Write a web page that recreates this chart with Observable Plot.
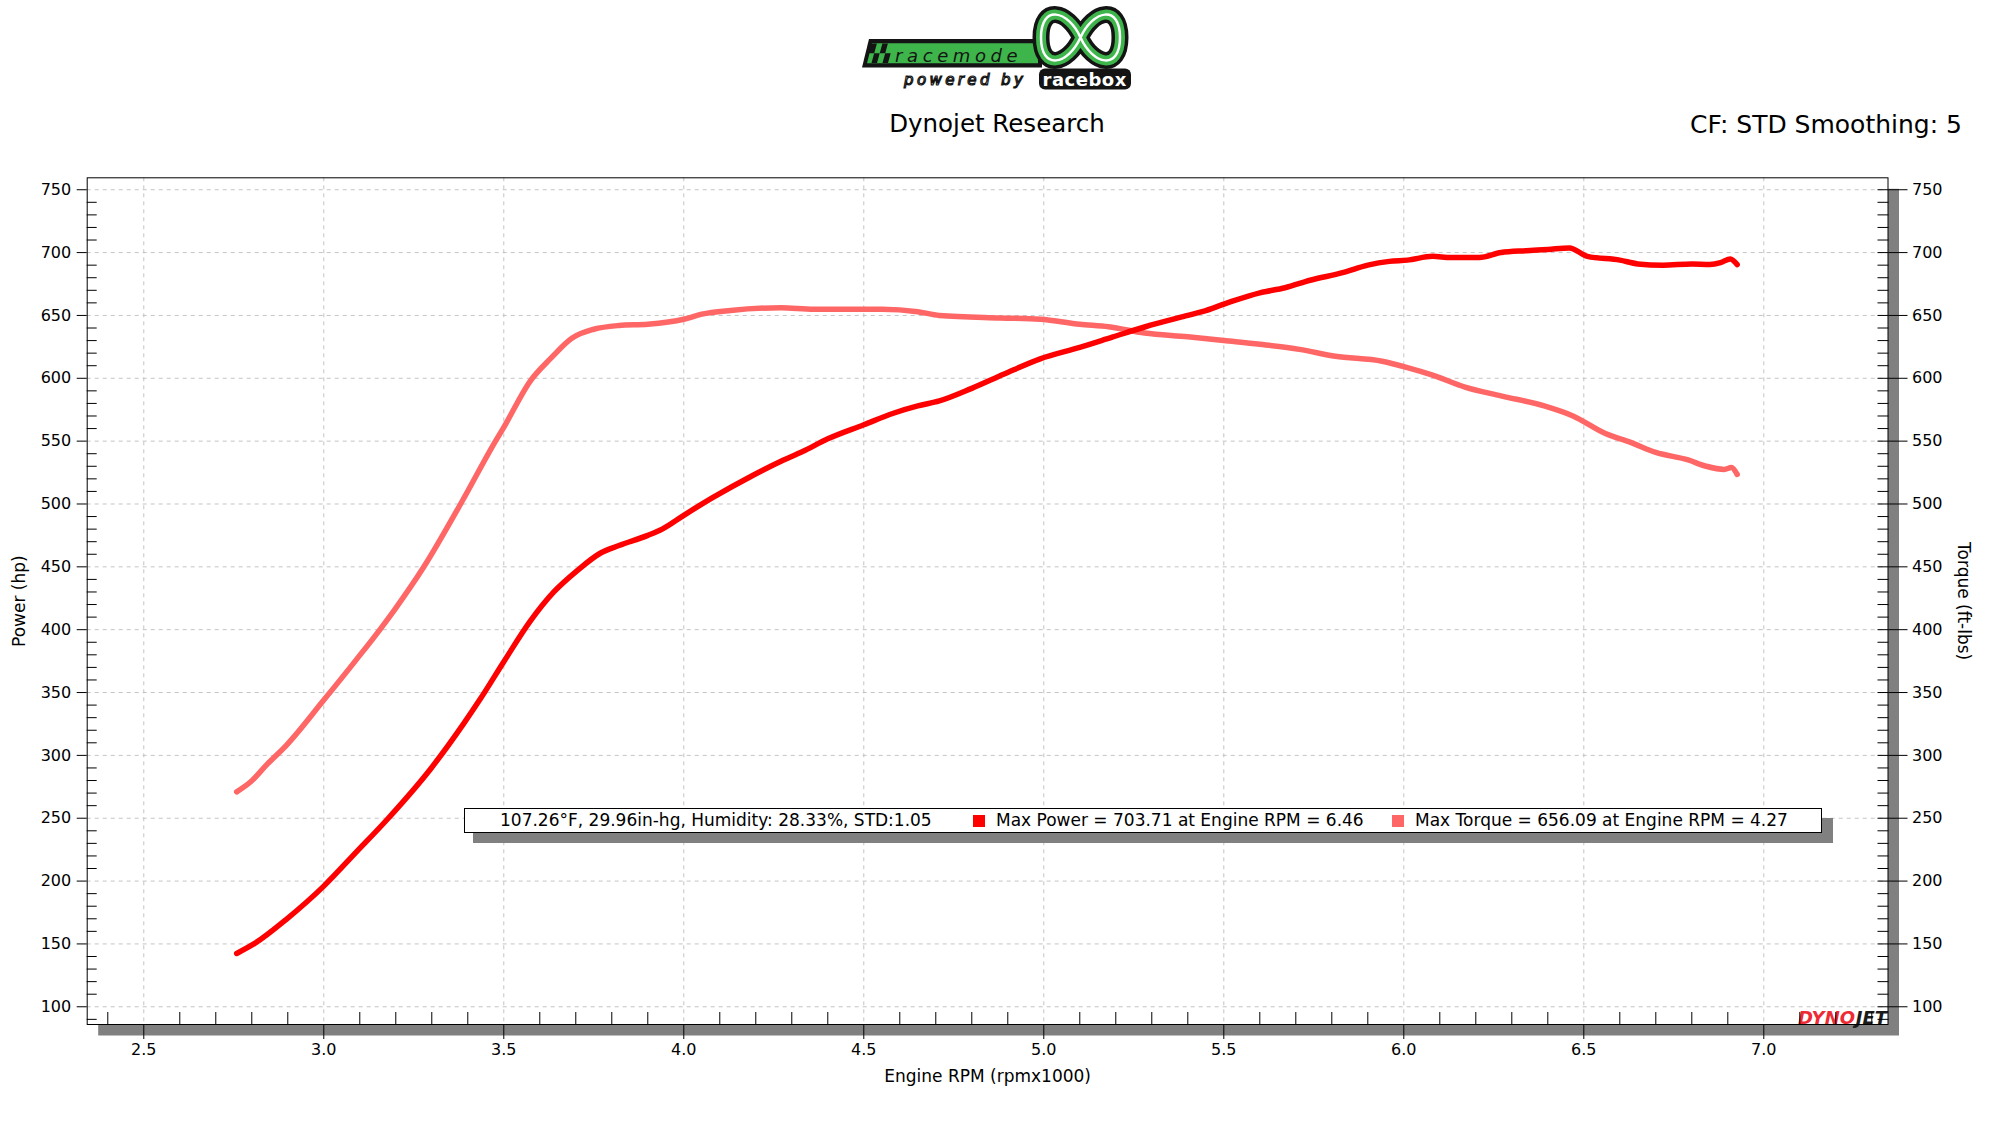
<!DOCTYPE html>
<html>
<head>
<meta charset="utf-8">
<script src="https://cdn.jsdelivr.net/npm/d3@7"></script>
<script src="https://cdn.jsdelivr.net/npm/@observablehq/plot@0.6"></script>
<style>
html,body{margin:0;padding:0;background:#fff;}
#wrap{position:relative;width:1994px;height:1121px;overflow:hidden;font-family:"DejaVu Sans",sans-serif;color:#000;background:#fff;}
#chart svg{display:block;}
#header{display:block;}
.legend-shadow{position:absolute;left:473px;top:818px;width:1360px;height:25px;background:#808080;}
.legend-box{position:absolute;left:463.5px;top:808px;width:1358.5px;height:25px;box-sizing:border-box;border:1px solid #000;background:#fff;font-size:17px;line-height:23px;white-space:nowrap;}
.legend-box .t{position:absolute;top:0;}
.legend-box .sq{position:absolute;width:12px;height:12px;top:5.5px;}
</style>
</head>
<body>
<div id="wrap">
  <svg id="header" width="1994" height="150" xmlns="http://www.w3.org/2000/svg" style="font-family:'DejaVu Sans',sans-serif">
    <g transform="translate(860,0)">
      <path d="M9,39 L182,39 L182,67.5 L2,67.5 Z" fill="#141414"/>
      <path d="M12,43.3 L178,43.3 L178,63.3 L7,63.3 Z" fill="#3db54a"/>
      <g fill="#141414">
        <path d="M8.7,53.25 L14.2,53.25 L16.9,43.5 L11.4,43.5 Z"/>
        <path d="M11.5,63 L17,63 L19.7,53.25 L14.2,53.25 Z"/>
        <path d="M19.7,53.25 L25.2,53.25 L27.9,43.5 L22.4,43.5 Z"/>
        <path d="M22.5,63 L28,63 L30.7,53.25 L25.2,53.25 Z"/>
      </g>
      <text x="35" y="61.5" font-size="18" font-style="italic" letter-spacing="4.6" fill="#141414">racemode</text>
      <text x="44" y="85" font-size="15" font-style="italic" letter-spacing="3.4" fill="#fff" stroke="#141414" stroke-width="1.2">powered by</text>
      <rect x="179" y="68.5" width="92" height="21" rx="6" fill="#141414"/>
      <text x="182.5" y="86" font-size="18" font-weight="bold" letter-spacing="0.5" fill="#fff">racebox</text>
      <g transform="translate(0,2)">
        <path d="M220.5,35.5 C233,8 260,2 260,35.5 C260,69 233,63 220.5,35.5 C208,8 181,2 181,35.5 C181,69 208,63 220.5,35.5 Z" fill="none" stroke="#141414" stroke-width="17"/>
        <path d="M220.5,35.5 C233,8 260,2 260,35.5 C260,69 233,63 220.5,35.5 C208,8 181,2 181,35.5 C181,69 208,63 220.5,35.5 Z" fill="none" stroke="#3db54a" stroke-width="10"/>
        <path d="M220.5,35.5 C233,8 260,2 260,35.5 C260,69 233,63 220.5,35.5 C208,8 181,2 181,35.5 C181,69 208,63 220.5,35.5 Z" fill="none" stroke="#ffffff" stroke-width="2.5"/>
      </g>
    </g>
    <text x="997" y="131.7" font-size="24.5" text-anchor="middle" fill="#000">Dynojet Research</text>
    <text x="1962" y="132.7" font-size="25" text-anchor="end" fill="#000">CF: STD Smoothing: 5</text>
  </svg>
  <div id="chart"></div>
  <div class="legend-shadow"></div>
  <div class="legend-box" id="legend"></div>
</div>
<script>
// ---- Data ----
const torqueRpm = [2.758, 2.797, 2.843, 2.896, 3.0, 3.09, 3.157, 3.197, 3.278, 3.38, 3.477, 3.5, 3.574, 3.631, 3.69, 3.75, 3.82, 3.90, 4.0, 4.05, 4.13, 4.27, 4.36, 4.55, 4.65, 4.71, 4.88, 4.99, 5.10, 5.18, 5.28, 5.40, 5.50, 5.60, 5.71, 5.81, 5.94, 6.01, 6.08, 6.17, 6.27, 6.39, 6.47, 6.56, 6.63, 6.70, 6.79, 6.84, 6.89, 6.91, 6.926];
const torqueVal = [271, 279, 293, 308, 344, 376, 400.5, 416, 450, 500, 550, 561, 598, 616, 632, 639, 642, 643, 647, 651, 654, 656.1, 655, 655, 653, 650, 648, 647, 643, 641, 636, 633, 630, 627, 623, 617.5, 613.5, 608.5, 602.5, 593, 586, 578, 570, 556, 549, 541, 535, 530, 527.5, 529, 523.5];

const powerRpm = [2.758, 2.808, 2.896, 3.0, 3.09, 3.176, 3.296, 3.389, 3.435, 3.5, 3.574, 3.639, 3.704, 3.769, 3.82, 3.90, 3.94, 4.0, 4.08, 4.19, 4.27, 4.33, 4.40, 4.50, 4.58, 4.65, 4.71, 4.80, 4.89, 4.99, 5.10, 5.19, 5.28, 5.40, 5.44, 5.51, 5.60, 5.67, 5.74, 5.83, 5.90, 5.96, 6.01, 6.08, 6.13, 6.21, 6.27, 6.34, 6.40, 6.46, 6.51, 6.60, 6.65, 6.72, 6.80, 6.85, 6.88, 6.907, 6.926];
const powerVal = [142.4, 150.4, 169.6, 196, 223, 249, 289, 325.5, 345, 374.5, 407, 430, 447, 461, 467, 475, 480, 491, 505, 522.5, 534, 541.7, 551.8, 563, 572, 578, 582, 592, 603.4, 615.5, 624.6, 632.7, 640.8, 650, 653, 660, 668, 672, 678, 684, 690, 693, 694, 697, 696, 696, 700, 701.5, 702.5, 703.7, 697, 694, 691, 690, 691, 690.5, 692, 695, 690.5];

const yTicks = [100, 150, 200, 250, 300, 350, 400, 450, 500, 550, 600, 650, 700, 750];
const xTicks = [2.5, 3.0, 3.5, 4.0, 4.5, 5.0, 5.5, 6.0, 6.5, 7.0];

const conditions = {temp: "107.26°F", pressure: "29.96in-hg", humidity: "28.33%", std: "1.05"};
const maxPower = {value: "703.71", rpm: "6.46"};
const maxTorque = {value: "656.09", rpm: "4.27"};

const seriesNames = ["Power", "Torque"];
const seriesColors = ["#ff0000", "#ff6666"];

// ---- Build tables ----
const power = powerRpm.map((r, i) => ({rpm: r, value: powerVal[i]}));
const torque = torqueRpm.map((r, i) => ({rpm: r, value: torqueVal[i]}));
const yMinor = d3.range(90, 750, 10).filter(v => v % 50 !== 0);
const yAll = d3.range(90, 751, 10);
const xMinor = d3.range(24, 74).filter(v => v % 5 !== 0).map(v => v / 10);

const gridStyle = {stroke: "#c4c4c4", strokeOpacity: 1, strokeWidth: 1, strokeDasharray: "4,4"};

const chart = Plot.plot({
  width: 1994,
  height: 971,
  marginLeft: 86.7,
  marginRight: 106.5,
  marginTop: 27.3,
  marginBottom: 97,
  x: {domain: [2.3428, 7.345]},
  y: {domain: [85.9, 759.5]},
  style: {fontFamily: "'DejaVu Sans', sans-serif", fontSize: "16px", color: "#000", background: "transparent", overflow: "visible"},
  marks: [
    Plot.frame({fill: "#808080", stroke: "none", dx: 11, dy: 11}),
    Plot.frame({fill: "#ffffff", stroke: "none"}),
    Plot.gridY(yTicks, gridStyle),
    Plot.gridX(xTicks, gridStyle),
    Plot.text(["JET"], {frameAnchor: "bottom-right", textAnchor: "end", lineAnchor: "bottom", dx: -1, dy: -1, fill: "#1b1b1b", fontSize: 18, fontWeight: "bold", fontStyle: "italic"}),
    Plot.text(["DYNO"], {frameAnchor: "bottom-right", textAnchor: "end", lineAnchor: "bottom", dx: -33, dy: -1, fill: "#ee2a35", fontSize: 18, fontWeight: "bold", fontStyle: "italic"}),
    Plot.line(torque, {x: "rpm", y: "value", stroke: seriesColors[1], strokeWidth: 5.5, curve: "monotone-x", strokeLinecap: "round", strokeLinejoin: "round"}),
    Plot.line(power, {x: "rpm", y: "value", stroke: seriesColors[0], strokeWidth: 5.5, curve: "monotone-x", strokeLinecap: "round", strokeLinejoin: "round"}),
    Plot.frame({stroke: "#000", strokeWidth: 1}),
    Plot.axisY(yTicks, {anchor: "left", tickSize: 10, tickPadding: 6, fontSize: 16, label: null, tickFormat: d => String(d)}),
    Plot.axisY(yMinor, {anchor: "left", tickSize: 10, dx: 10, fill: "none", label: null}),
    Plot.axisY(yTicks, {anchor: "right", tickSize: 19, tickPadding: 5, fontSize: 16, label: null, tickFormat: d => String(d)}),
    Plot.axisY(yAll, {anchor: "right", tickSize: 11, dx: -11, fill: "none", label: null}),
    Plot.axisX(xTicks, {anchor: "bottom", tickSize: 15, tickPadding: 4, fontSize: 16, label: null, tickFormat: d => d.toFixed(1)}),
    Plot.axisX(xMinor, {anchor: "bottom", tickSize: 12, dy: -12, fill: "none", label: null}),
    Plot.text(["Power (hp)"], {frameAnchor: "left", textAnchor: "middle", lineAnchor: "middle", rotate: -90, dx: -68, fontSize: 17, fill: "#000"}),
    Plot.text(["Torque (ft-lbs)"], {frameAnchor: "right", textAnchor: "middle", lineAnchor: "middle", rotate: 90, dx: 75, fontSize: 17, fill: "#000"}),
    Plot.text(["Engine RPM (rpmx1000)"], {frameAnchor: "bottom", textAnchor: "middle", lineAnchor: "middle", dy: 52, fontSize: 17, fill: "#000"})
  ]
});
document.getElementById("chart").appendChild(chart);

// ---- Legend ----
const legend = document.getElementById("legend");
const items = [
  {type: "t", left: 35.5, text: `${conditions.temp}, ${conditions.pressure}, Humidity: ${conditions.humidity}, STD:${conditions.std}`},
  {type: "sq", left: 508.5, color: seriesColors[0]},
  {type: "t", left: 531.5, text: `Max ${seriesNames[0]} = ${maxPower.value} at Engine RPM = ${maxPower.rpm}`},
  {type: "sq", left: 927.5, color: seriesColors[1]},
  {type: "t", left: 950.5, text: `Max ${seriesNames[1]} = ${maxTorque.value} at Engine RPM = ${maxTorque.rpm}`}
];
for (const it of items) {
  const el = document.createElement("span");
  el.className = it.type;
  el.style.left = it.left + "px";
  if (it.type === "t") el.textContent = it.text;
  else el.style.background = it.color;
  legend.appendChild(el);
}
</script>
</body>
</html>
